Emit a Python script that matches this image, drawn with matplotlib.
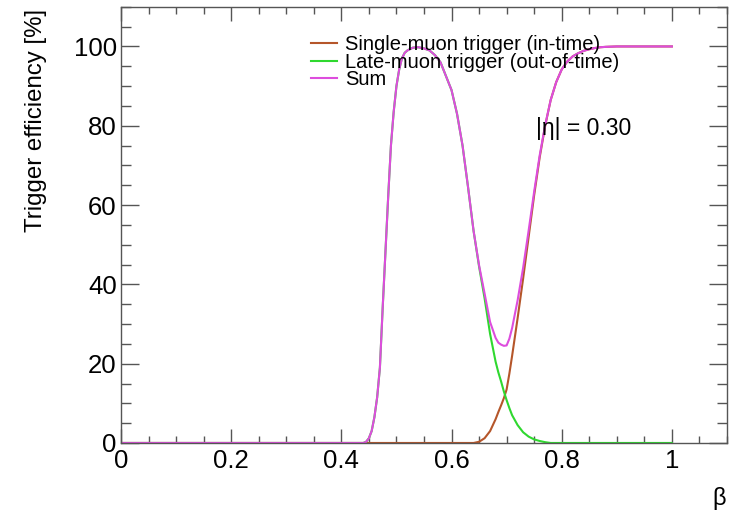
import matplotlib
matplotlib.use("Agg")
import matplotlib.pyplot as plt
from matplotlib.ticker import MultipleLocator

plt.rcParams['font.family'] = ['Liberation Sans', 'DejaVu Sans']

beta = [0.0, 0.44, 0.445, 0.45, 0.455, 0.46, 0.465, 0.47, 0.475, 0.48, 0.485,
        0.49, 0.495, 0.50, 0.505, 0.51, 0.515, 0.52, 0.53, 0.54, 0.55,
        0.56, 0.57, 0.58, 0.59, 0.60, 0.61, 0.62, 0.63,
        0.64, 0.65, 0.66, 0.67, 0.68, 0.685, 0.69, 0.695, 0.70, 0.705, 0.71, 0.72, 0.73,
        0.74, 0.75, 0.76, 0.77, 0.78, 0.79, 0.80, 0.81, 0.82, 0.83,
        0.84, 0.85, 0.86, 0.87, 0.88, 0.90, 1.0]

single_muon = [0, 0, 0, 0, 0, 0, 0, 0, 0, 0, 0,
               0, 0, 0, 0, 0, 0, 0, 0, 0, 0,
               0, 0, 0, 0, 0, 0, 0, 0,
               0, 0.3, 1.2, 3.0, 6.0, 7.8, 9.5, 11.3, 13.5, 17.5, 22.0, 31.5, 41.5,
               52.0, 62.5, 72.0, 80.0, 86.5, 91.0, 94.2, 96.2, 97.5, 98.3,
               98.9, 99.3, 99.6, 99.8, 99.9, 100, 100]

late_muon = [0, 0, 0.3, 1.2, 3.0, 6.5, 11.5, 19.0, 34.0, 48.0, 62.0,
             75.0, 83.5, 90.0, 94.2, 97.0, 98.4, 99.0, 99.7, 99.8, 99.5,
             99.0, 97.8, 96.0, 92.5, 89.0, 83.0, 75.0, 64.5,
             53.5, 44.5, 36.5, 27.5, 20.5, 17.8, 15.5, 13.0, 10.8, 8.8, 7.0, 4.5, 2.7,
             1.6, 0.9, 0.5, 0.2, 0, 0, 0, 0, 0, 0,
             0, 0, 0, 0, 0, 0, 0]

total = [0, 0, 0.3, 1.2, 3.0, 6.5, 11.5, 19.0, 34.0, 48.0, 62.0,
         75.0, 83.5, 90.0, 94.2, 97.0, 98.4, 99.0, 99.7, 99.8, 99.5,
         99.0, 97.8, 96.0, 92.5, 89.0, 83.0, 75.0, 64.5,
         53.5, 44.8, 37.7, 30.5, 26.5, 25.3, 24.8, 24.5, 24.6, 26.3, 29.0, 36.0, 44.2,
         53.6, 63.4, 72.5, 80.2, 86.5, 91.0, 94.2, 96.2, 97.5, 98.3,
         98.9, 99.3, 99.6, 99.8, 99.9, 100, 100]

labels = ["Single-muon trigger (in-time)", "Late-muon trigger (out-of-time)", "Sum"]
colors = ["#b5562a", "#2fd82f", "#dd4ddd"]

fig = plt.figure(figsize=(7.31, 5.23), dpi=100)
ax = fig.add_axes([0.1655, 0.153, 0.829, 0.834])

h1, = ax.plot(beta, single_muon, color=colors[0], lw=1.5, label=labels[0])
h2, = ax.plot(beta, late_muon, color=colors[1], lw=1.5, label=labels[1])
h3, = ax.plot(beta, total, color=colors[2], lw=1.5, label=labels[2])

ax.set_xlim(0, 1.1)
ax.set_ylim(0, 110)

frame_col = "#555555"
for s in ax.spines.values():
    s.set_color(frame_col)
    s.set_linewidth(1.0)

ax.xaxis.set_major_locator(MultipleLocator(0.2))
ax.xaxis.set_minor_locator(MultipleLocator(0.05))
ax.yaxis.set_major_locator(MultipleLocator(20))
ax.yaxis.set_minor_locator(MultipleLocator(5))
ax.tick_params(axis='x', which='major', direction='in', length=10, width=1, color=frame_col,
               top=True, labelsize=18.5, pad=4)
ax.tick_params(axis='x', which='minor', direction='in', length=5, width=1, color=frame_col, top=True)
ax.tick_params(axis='y', which='major', direction='in', length=13, width=1, color=frame_col,
               right=True, labelsize=18.5, pad=3)
ax.tick_params(axis='y', which='minor', direction='in', length=7, width=1, color=frame_col, right=True)

ax.set_xticks([0, 0.2, 0.4, 0.6, 0.8, 1.0])
ax.set_xticklabels(["0", "0.2", "0.4", "0.6", "0.8", "1"])
ax.set_yticks([0, 20, 40, 60, 80, 100])
ax.set_yticklabels(["0", "20", "40", "60", "80", "100"])

ax.set_ylabel("Trigger efficiency [%]", fontsize=17.3)
ax.yaxis.set_label_coords(-0.14, 0.995)
ax.yaxis.label.set_ha('right')
ax.yaxis.label.set_va('center')

fig.text(0.993, 0.025, "β", fontsize=17, ha='right', va='bottom')

ax.text(0.685, 0.72, "|η| = 0.30", transform=ax.transAxes, fontsize=16.5, ha='left', va='center')

leg = ax.legend(handles=[h1, h2, h3], loc='upper left', bbox_to_anchor=(0.30, 0.953),
                frameon=False, fontsize=14.5, handlelength=1.3, handletextpad=0.4,
                labelspacing=-0.08, borderaxespad=0.0)

fig.savefig("out.png", dpi=100)
